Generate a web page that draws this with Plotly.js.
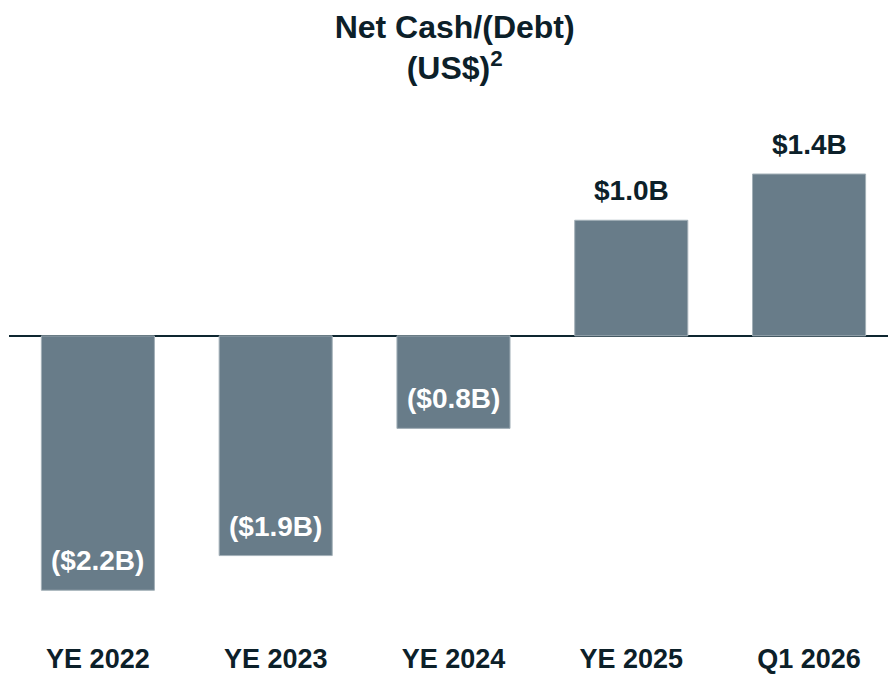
<!DOCTYPE html>
<html>
<head>
<meta charset="utf-8">
<script src="https://cdn.plot.ly/plotly-3.0.1.min.js"></script>
<style>
  body { margin: 0; background: #ffffff; }
  #chart { width: 888px; height: 676px; }
</style>
</head>
<body>
<div id="chart"></div>
<script>
// periods and net cash / (debt) in US$ billions
var periods = ["YE 2022", "YE 2023", "YE 2024", "YE 2025", "Q1 2026"];
var netCash = [-2.2, -1.9, -0.8, 1.0, 1.4];
var valueLabels = ["($2.2B)", "($1.9B)", "($0.8B)", "$1.0B", "$1.4B"];

var barColor = "#687c89";
var darkText = "#0c2029";
var fontFam = "Liberation Sans, Arial, sans-serif";

var trace = {
	type: "bar",
	x: periods,
	y: netCash,
	marker: {
		color: barColor,
		line: {color: "#a3b0b8", width: 1}
	},
	hoverinfo: "skip"
};

// labels: dark above positive bars, white inside the end of negative bars
var annotations = [];
for (let i = 0; i < periods.length; i++){
	var neg = netCash[i] < 0;
	annotations.push({
		x: periods[i], y: netCash[i],
		xref: "x", yref: "y",
		text: valueLabels[i],
		showarrow: false,
		yanchor: "bottom",
		yshift: 12,
		font: {family: fontFam, size: 28, weight: "bold", color: neg ? "#ffffff" : darkText}
	});
}

var layout = {
	width: 888,
	height: 676,
	paper_bgcolor: "#ffffff",
	plot_bgcolor: "#ffffff",
	margin: {l: 9, r: 0, t: 100, b: 36},
	bargap: 0.364,
	showlegend: false,
	font: {family: fontFam, color: darkText},
	title: {
		text: "Net Cash/(Debt)<br>(US$)<sup>2</sup>",
		x: 0.512, xanchor: "center",
		y: 0.944, yanchor: "top", yref: "container",
		font: {family: fontFam, size: 32, weight: "bold", color: darkText}
	},
	xaxis: {
		range: [-0.5, 4.444],
		showgrid: false,
		showline: false,
		ticks: "",
		tickfont: {family: fontFam, size: 27, weight: "bold", color: darkText},
		fixedrange: true
	},
	yaxis: {
		range: [-2.63, 2.04],
		showgrid: false,
		showticklabels: false,
		ticks: "",
		zeroline: true,
		zerolinecolor: "#0e2630",
		zerolinewidth: 2,
		fixedrange: true
	},
	annotations: annotations
};

Plotly.newPlot("chart", [trace], layout, {displayModeBar: false, staticPlot: true});
</script>
</body>
</html>
